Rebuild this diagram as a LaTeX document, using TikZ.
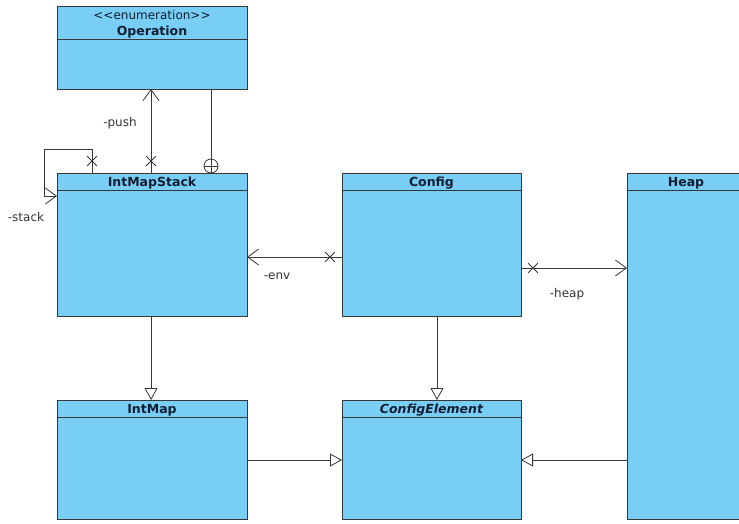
\documentclass[tikz,border=0pt]{standalone}
\usepackage{fontspec}
\setmainfont{DejaVu Sans}
\usepackage{xcolor}
\usetikzlibrary{arrows.meta,shapes.misc}

\definecolor{classblue}{RGB}{121,206,245}
\definecolor{linegray}{RGB}{55,55,55}
\definecolor{titleink}{RGB}{15,30,50}

\tikzset{
    cls/.style={draw=linegray, fill=classblue, line width=0.9pt, rectangle, anchor=north west, inner sep=0pt},
    title/.style={anchor=base, inner sep=0pt, font=\fontsize{12.5}{14}\selectfont\bfseries, text=titleink},
    role/.style={font=\fontsize{12}{14}\selectfont, text=black!80},
    assoc/.style={draw=linegray, line width=0.8pt, -{Straight Barb[length=11pt,width=16pt]}},
    inherit/.style={draw=linegray, line width=0.8pt, -{Triangle[open,length=12pt,width=13pt,fill=white]}},
    owner/.style={draw=linegray, line width=0.8pt, cross out, minimum size=9pt, inner sep=0pt},
}

\begin{document}
\begin{tikzpicture}[x=1pt, y=-1pt]
    \clip (0,0) rectangle (739,523);
    \fill[white] (0,0) rectangle (739,523);

    % class boxes
    \node (op) [cls, minimum width=190pt, minimum height=83pt] at (57,6) {};
    \node (stack) [cls, minimum width=190pt, minimum height=143pt] at (57,173) {};
    \node (config) [cls, minimum width=179pt, minimum height=143pt] at (342,173) {};
    \node (heap) [cls, minimum width=140pt, minimum height=346pt] at (627,173) {};
    \node (intmap) [cls, minimum width=190pt, minimum height=119pt] at (57,400) {};
    \node (elem) [cls, minimum width=179pt, minimum height=119pt] at (342,400) {};

    % header lines
    \draw[linegray, line width=0.9pt] (57,39) -- (247,39);
    \draw[linegray, line width=0.9pt] (57,190) -- (247,190);
    \draw[linegray, line width=0.9pt] (342,190) -- (521,190);
    \draw[linegray, line width=0.9pt] (627,190) -- (770,190);
    \draw[linegray, line width=0.9pt] (57,417) -- (247,417);
    \draw[linegray, line width=0.9pt] (342,417) -- (521,417);

    % class names
    \node (optag) [anchor=base, inner sep=0pt, font=\fontsize{12}{14}\selectfont, text=titleink] at (152,19.5) {<{}<enumeration>{}>};
    \node (opname) [title] at (152,35) {Operation};
    \node (stackname) [title] at (152,186) {IntMapStack};
    \node (configname) [title] at (431.5,186) {Config};
    \node (heapname) [title] at (686,186) {Heap};
    \node (intmapname) [title] at (152,413) {IntMap};
    \node (elemname) [title, font=\fontsize{12.5}{14}\selectfont\bfseries\itshape] at (431.5,413) {ConfigElement};

    % end points of the associations
    \coordinate (pushS) at (151,173);
    \coordinate (pushT) at (151,89);
    \coordinate (nestS) at (211,173);
    \coordinate (nestT) at (211,89);
    \coordinate (envS) at (342,257);
    \coordinate (envT) at (247,257);
    \coordinate (heapS) at (521,268);
    \coordinate (heapT) at (627,268);

    % associations
    \draw[assoc] (pushS) -- (pushT);
    \node [owner] at (151,161) {};
    \node [role] at (120,123) {-push};

    \draw[draw=linegray, line width=0.8pt] (nestS) -- (nestT);
    \draw[linegray, line width=0.8pt] (211,166) circle (7pt);
    \draw[linegray, line width=0.8pt] (204,166) -- (218,166);

    \draw[assoc] (92,173) |- (44,149) |- (57,196);
    \node [owner] at (92,161) {};
    \node [role] at (26,217) {-stack};

    \draw[assoc] (envS) -- (envT);
    \node [owner] at (330,257) {};
    \node [role] at (277,276) {-env};

    \draw[assoc] (heapS) -- (heapT);
    \node [owner] at (533,268) {};
    \node [role] at (567,294) {-heap};

    % generalizations
    \draw[inherit] (stack.south -| pushS) -- (intmap.north -| pushS);
    \draw[inherit] (437,316) -- (437,400);
    \draw[inherit] (247,460) -- (342,460);
    \draw[inherit] (627,460) -- (521,460);
\end{tikzpicture}
\end{document}
